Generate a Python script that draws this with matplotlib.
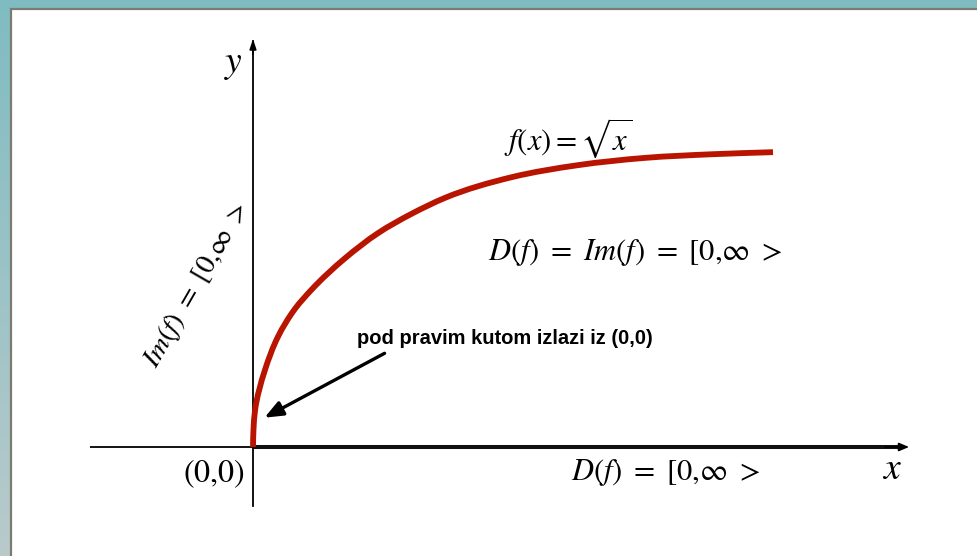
import numpy as np
import matplotlib
matplotlib.use("Agg")
import matplotlib.pyplot as plt
from matplotlib.patches import Rectangle, PathPatch
from matplotlib.path import Path

plt.rcParams['mathtext.fontset'] = 'stix'

# curve samples (units: 1 unit ~ 52 px)
curve_x = [0.0, 0.01, 0.04, 0.23, 0.48, 0.81, 1.13, 1.77, 2.40, 3.06, 3.69, 4.98, 6.25, 7.54, 8.83, 10.0]
curve_y = [0.0, 0.35, 0.71, 1.48, 2.12, 2.66, 3.03, 3.63, 4.11, 4.49, 4.79, 5.19, 5.42, 5.56, 5.63, 5.67]

x_axis_range = [-3.13, 12.67]
y_axis_range = [-1.13, 7.9]
domain_end = 12.4

label_func = r'$f(x) = \sqrt{x}$'
label_dom_im = r'$D(f)\ =\ Im(f)\ =\ [0{,}\infty\ >$'
label_dom = r'$D(f)\ =\ [0{,}\infty\ >$'
label_im = r'$Im(f)\ =\ [0{,}\infty\ >$'
label_origin = r'$\mathrm{(0{,}0)}$'
annot_text = 'pod pravim kutom izlazi iz (0,0)'

W, H = 977, 556
fig = plt.figure(figsize=(W / 100, H / 100), dpi=100)

# background gradient
bg = fig.add_axes([0, 0, 1, 1])
bg.set_axis_off()
top = np.array([0x7f, 0xbc, 0xc1]) / 255
bot = np.array([0xb9, 0xca, 0xcb]) / 255
t = np.linspace(0, 1, 256)[:, None]
grad = (top[None, :] * (1 - t) + bot[None, :] * t)[:, None, :]
bg.imshow(grad, aspect='auto', extent=[0, 1, 0, 1], origin='upper')
bg.set_xlim(0, 1)
bg.set_ylim(0, 1)
x0 = 11 / W
y1 = 1 - 9 / H
bg.add_patch(Rectangle((x0, -0.05), 1.1, y1 + 0.05, facecolor='white',
                       edgecolor='#7b7b72', linewidth=1.6))

ax = fig.add_axes([0, 0, 1, 1])
ax.set_axis_off()
ax.patch.set_alpha(0)
u = 52.0
ox, oy = 253, 447
ax.set_xlim(-ox / u, (W - ox) / u)
ax.set_ylim(-(H - oy) / u, oy / u)

# axes
ax.plot([x_axis_range[0], 0], [0, 0], color='black', lw=1.3, solid_capstyle='butt')
ax.plot([0, domain_end], [0, 0], color='#111111', lw=2.9, solid_capstyle='butt')
ax.annotate('', xy=(x_axis_range[1], 0), xytext=(domain_end - 0.3, 0),
            arrowprops=dict(arrowstyle='-|>,head_length=0.6,head_width=0.25', color='black', lw=1.2))
ax.plot([0, 0], [y_axis_range[0], y_axis_range[1] - 0.1], color='black', lw=1.3)
ax.annotate('', xy=(0, y_axis_range[1]), xytext=(0, y_axis_range[1] - 0.4),
            arrowprops=dict(arrowstyle='-|>,head_length=0.6,head_width=0.2', color='black', lw=1.2))

# smooth curve through the read points (chord-parameterised cubic Bezier segments)
P = np.column_stack([curve_x, curve_y])
n = len(P)
dt = np.linalg.norm(np.diff(P, axis=0), axis=1)
tang = np.zeros_like(P)
for i in range(n):
    if i == 0:
        tang[i] = (P[1] - P[0]) / dt[0]
    elif i == n - 1:
        tang[i] = (P[-1] - P[-2]) / dt[-1]
    else:
        d0 = (P[i] - P[i - 1]) / dt[i - 1]
        d1 = (P[i + 1] - P[i]) / dt[i]
        tang[i] = (d0 * dt[i] + d1 * dt[i - 1]) / (dt[i - 1] + dt[i])
verts = [P[0]]
codes = [Path.MOVETO]
for i in range(n - 1):
    h = dt[i] / 3.0
    verts += [P[i] + tang[i] * h, P[i + 1] - tang[i + 1] * h, P[i + 1]]
    codes += [Path.CURVE4] * 3
ax.add_patch(PathPatch(Path(verts, codes), facecolor='none', edgecolor='#b81400',
                       lw=4.2, capstyle='butt', zorder=5))

# texts
ax.text(-20 / u, (447 - 64) / u, r'$y$', fontsize=27, ha='center', va='center')
ax.text((892 - ox) / u, (447 - 469) / u, r'$x$', fontsize=27, ha='center', va='center')
ax.text((568 - ox) / u, (447 - 138) / u, label_func, fontsize=22, ha='center', va='center')
ax.text((635 - ox) / u, (447 - 252) / u, label_dom_im, fontsize=22, ha='center', va='center')
ax.text((666 - ox) / u, (447 - 473) / u, label_dom, fontsize=22, ha='center', va='center')
ax.text((214 - ox) / u, (447 - 474) / u, label_origin, fontsize=23, ha='center', va='center')
ax.text((197 - ox) / u, (447 - 285) / u, label_im, fontsize=20.5, ha='center', va='center',
        rotation=60, rotation_mode='anchor')
ax.text((505 - ox) / u, (447 - 338) / u, annot_text, fontsize=14.5, fontweight='bold',
        family='Liberation Sans', ha='center', va='center')
ax.annotate('', xy=((262 - ox) / u, (447 - 419) / u), xytext=((387 - ox) / u, (447 - 352) / u),
            arrowprops=dict(arrowstyle='-|>,head_length=1.1,head_width=0.45', color='black', lw=2.4))

fig.savefig('out.png', dpi=100)
